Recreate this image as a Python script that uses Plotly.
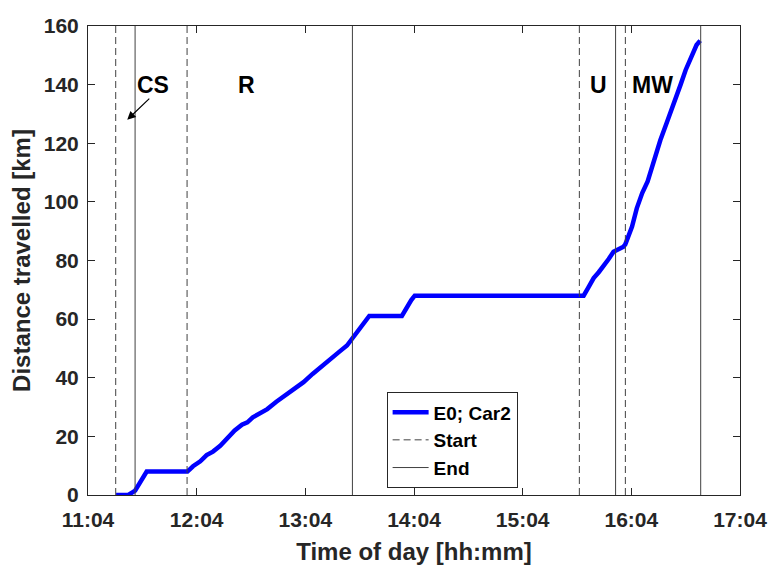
import plotly.graph_objects as go

DAY = "2024-01-01 "

# Measured curve: time of day and cumulative distance (km)
time_of_day = [
    "11:19:30", "11:26:15", "11:29:00", "11:30:00", "11:36:24", "11:58:54",
    "12:02:00", "12:06:00", "12:09:30", "12:13:00", "12:17:00", "12:21:00",
    "12:25:00", "12:29:00", "12:32:00", "12:35:00", "12:39:00", "12:43:00",
    "12:48:00", "12:53:00", "12:58:00", "13:03:00", "13:08:00", "13:13:00",
    "13:18:00", "13:23:00", "13:27:00", "13:30:00", "13:32:30", "13:36:00",
    "13:39:18", "13:57:18", "13:59:00", "14:02:30", "14:04:24", "15:37:40",
    "15:40:00", "15:43:12", "15:46:00", "15:48:40", "15:51:30", "15:54:10",
    "15:57:00", "15:59:40", "16:00:40", "16:04:24", "16:07:00", "16:10:00",
    "16:13:00", "16:16:24", "16:20:00", "16:23:48", "16:27:00", "16:31:12",
    "16:34:00", "16:37:36", "16:40:00", "16:42:00",
]
distance_km = [
    0.0, 0.0, 1.1, 1.5, 8.0, 8.0,
    9.8, 11.5, 13.6, 14.8, 16.8, 19.5,
    22.0, 24.0, 24.8, 26.5, 27.8, 29.3,
    31.8, 34.0, 36.0, 38.5, 41.3, 44.0,
    46.5, 49.0, 51.0, 53.5, 55.2, 58.5,
    61.1, 61.1, 63.0, 66.5, 68.0, 68.0,
    70.5, 74.0, 76.0, 77.9, 80.5, 83.0,
    84.0, 84.7, 85.5, 91.6, 97.8, 103.0,
    107.0, 114.3, 121.0, 127.4, 132.5, 140.0,
    145.0, 150.7, 153.5, 155.0,
]

# Phase boundaries
start_times = ["11:19:18", "11:58:42", "15:35:18", "16:00:42"]
end_times = ["11:30:00", "13:30:00", "15:55:18", "16:42:18"]

# Phase labels
phase_labels = ["CS", "R", "U", "MW"]
phase_label_times = ["11:40:00", "12:31:20", "15:45:50", "16:15:40"]
phase_label_y = 140

x_tick_labels = ["11:04", "12:04", "13:04", "14:04", "15:04", "16:04", "17:04"]
y_ticks = [0, 20, 40, 60, 80, 100, 120, 140, 160]
y_range = [0, 160]

def ts(t):
    return DAY + t

def vlines(times):
    xs, ys = [], []
    for t in times:
        xs += [ts(t), ts(t), None]
        ys += [y_range[0], y_range[1], None]
    return xs, ys

TXT = "#262626"
LINE = "#404040"

fig = go.Figure()
fig.add_trace(go.Scatter(
    x=[ts(t) for t in time_of_day], y=distance_km, mode="lines",
    name="E0; Car2", line=dict(color="#0000ff", width=4.5),
))
sx, sy = vlines(start_times)
fig.add_trace(go.Scatter(
    x=sx, y=sy, mode="lines", name="Start",
    line=dict(color=LINE, width=1, dash="7px,4px"),
))
ex, ey = vlines(end_times)
fig.add_trace(go.Scatter(
    x=ex, y=ey, mode="lines", name="End",
    line=dict(color=LINE, width=1),
))

for lab, t in zip(phase_labels, phase_label_times):
    fig.add_annotation(
        x=ts(t), y=phase_label_y, text=lab, showarrow=False,
        font=dict(size=23, color="black", family="Liberation Sans", weight="bold"),
    )

# Arrow pointing from the CS label to the charging-stop interval
fig.add_annotation(
    x=ts("11:25:40"), y=128, ax=ts("11:38:40"), ay=135.7,
    axref="x", ayref="y", xref="x", yref="y", text="", showarrow=True,
    arrowhead=2, arrowsize=1.4, arrowwidth=1.2, arrowcolor="black",
)

fig.update_layout(
    width=771, height=565,
    margin=dict(l=88, r=31, t=26, b=70),
    paper_bgcolor="white", plot_bgcolor="white",
    font=dict(family="Liberation Sans", size=21, color=TXT, weight="bold"),
    showlegend=True,
    legend=dict(
        x=0.458, y=0.219, xanchor="left", yanchor="top",
        bgcolor="white", bordercolor=TXT, borderwidth=1,
        font=dict(size=19, color="black", weight="bold"),
        itemwidth=36, tracegroupgap=0,
    ),
)

fig.update_xaxes(
    type="date", automargin=False,
    range=[ts("11:04"), ts("17:04")],
    tickvals=[ts(t) for t in x_tick_labels], ticktext=x_tick_labels,
    ticks="inside", ticklen=7, tickcolor=TXT, tickwidth=1,
    showline=True, linecolor=TXT, linewidth=1, mirror="allticks",
    showgrid=False, zeroline=False,
    tickfont=dict(size=21, color=TXT), ticklabelstandoff=6,
    title=dict(text="Time of day [hh:mm]", font=dict(size=24, color=TXT), standoff=12),
)
fig.update_yaxes(
    automargin=False,
    range=y_range, tickvals=y_ticks,
    ticks="inside", ticklen=7, tickcolor=TXT, tickwidth=1,
    showline=True, linecolor=TXT, linewidth=1, mirror="allticks",
    showgrid=False, zeroline=False,
    tickfont=dict(size=21, color=TXT), ticklabelstandoff=4,
    title=dict(text="Distance travelled [km]", font=dict(size=24, color=TXT), standoff=6),
)

fig.write_html("out.html")
